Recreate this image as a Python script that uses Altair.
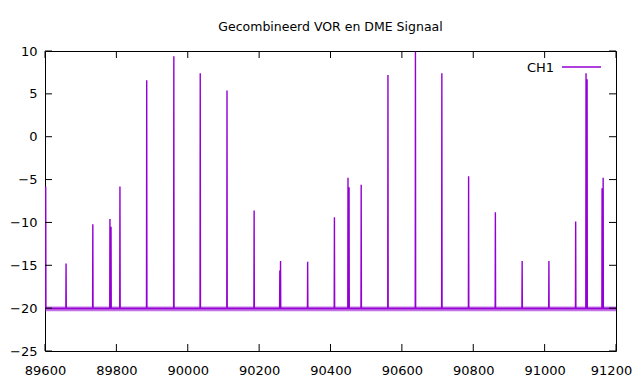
import altair as alt
import pandas as pd

# Spike positions (frequency) and peak levels
spike_x = [89602, 89659, 89734, 89782, 89785, 89810, 89885, 89961, 90035, 90110,
           90186, 90258, 90260, 90336, 90411, 90449, 90452, 90486, 90561, 90638,
           90712, 90787, 90862, 90937, 91012, 91087, 91116, 91119, 91161, 91164]
spike_y = [-5.8, -14.8, -10.2, -9.6, -10.5, -5.8, 6.6, 9.4, 7.4, 5.4,
           -8.6, -15.6, -14.5, -14.6, -9.4, -4.8, -5.9, -5.6, 7.2, 9.9,
           7.4, -4.6, -8.8, -14.5, -14.5, -9.9, 7.4, 6.7, -6.0, -4.8]
baseline = -20.05
x_start, x_end = 89600, 91200
noise_lo, noise_hi = -20.35, -19.8

x_ticks = [89600, 89800, 90000, 90200, 90400, 90600, 90800, 91000, 91200]
y_ticks = [-25, -20, -15, -10, -5, 0, 5, 10]

rows = [{"f": x_start, "v": baseline}]
for sx, sy in zip(spike_x, spike_y):
    rows.append({"f": sx - 0.6, "v": baseline})
    rows.append({"f": sx, "v": sy})
    rows.append({"f": sx + 0.6, "v": baseline})
rows.append({"f": x_end, "v": baseline})
line_df = pd.DataFrame(rows)
band_df = pd.DataFrame({"f": [x_start, x_end], "lo": [noise_lo] * 2, "hi": [noise_hi] * 2})
xt_df = pd.DataFrame({"t": x_ticks})
yt_df = pd.DataFrame({"t": y_ticks})
leg_df = pd.DataFrame({"label": ["CH1"]})

COL = "#9400D3"
FONT = "DejaVu Sans"
W, H = 571, 300

xs = alt.Scale(domain=[x_start, x_end], nice=False, zero=False)
ys = alt.Scale(domain=[-25, 10], nice=False, zero=False)

xaxis = alt.Axis(values=x_ticks, grid=False, ticks=False, domain=False, title=None,
                 labelFont=FONT, labelFontSize=13, labelColor="black", labelPadding=13,
                 format="d", labelFlush=False,
                 labelOffset=alt.ExprRef("datum.value == 91200 ? -5 : 0"))
yaxis = alt.Axis(values=y_ticks, grid=False, ticks=False, domain=False, title=None,
                 labelFont=FONT, labelFontSize=13, labelColor="black", labelPadding=8,
                 format="d")

band = alt.Chart(band_df).mark_area(color=COL, opacity=0.55).encode(
    x=alt.X("f:Q", scale=xs, axis=xaxis),
    y=alt.Y("lo:Q", scale=ys, axis=yaxis),
    y2="hi:Q",
)
line = alt.Chart(line_df).mark_line(color=COL, strokeWidth=1.4, clip=True).encode(
    x=alt.X("f:Q", scale=xs),
    y=alt.Y("v:Q", scale=ys),
)
tb = alt.Chart(xt_df).mark_rule(color="black", strokeWidth=1).encode(
    x=alt.X("t:Q", scale=xs), y=alt.value(H), y2=alt.value(H - 7))
tt = alt.Chart(xt_df).mark_rule(color="black", strokeWidth=1).encode(
    x=alt.X("t:Q", scale=xs), y=alt.value(0), y2=alt.value(7))
tl = alt.Chart(yt_df).mark_rule(color="black", strokeWidth=1).encode(
    y=alt.Y("t:Q", scale=ys), x=alt.value(0), x2=alt.value(7))
tr = alt.Chart(yt_df).mark_rule(color="black", strokeWidth=1).encode(
    y=alt.Y("t:Q", scale=ys), x=alt.value(W), x2=alt.value(W - 7))

leg_text = alt.Chart(leg_df).mark_text(
    align="right", baseline="middle", font=FONT, fontSize=13, color="black"
).encode(text="label:N", x=alt.value(509), y=alt.value(17))
leg_line = alt.Chart(leg_df).mark_rule(color=COL, strokeWidth=1.3).encode(
    x=alt.value(517), x2=alt.value(556), y=alt.value(16))

chart = alt.layer(band, line, tb, tt, tl, tr, leg_text, leg_line).properties(
    width=W, height=H,
    title=alt.TitleParams("Gecombineerd VOR en DME Signaal", font=FONT, fontSize=12.5,
                          fontWeight="normal", color="black", anchor="middle", offset=12),
    autosize=alt.AutoSizeParams(type="none"),
    padding={"left": 37, "top": 43, "right": 16, "bottom": 25},
    background="white",
).configure_view(stroke="black", strokeWidth=1)

chart.save("out.html", embed_options={"renderer": "svg", "actions": False})
